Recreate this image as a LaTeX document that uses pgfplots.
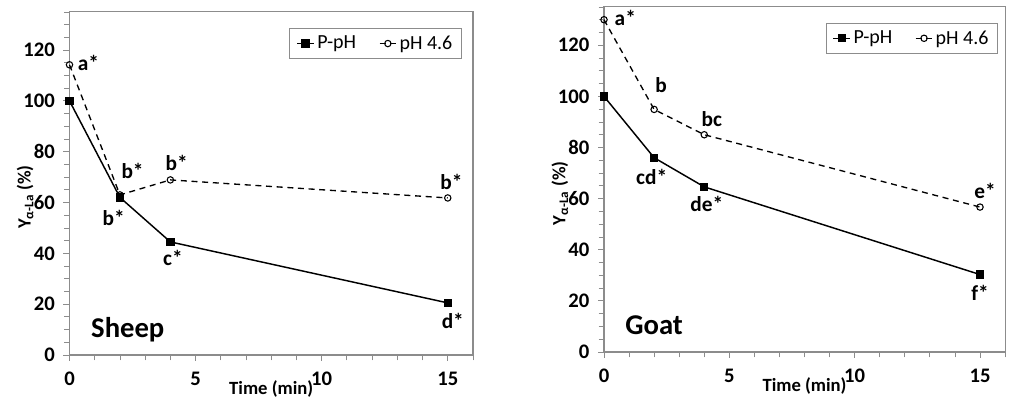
\documentclass[border=0pt]{standalone}
\usepackage{pgfplots}
\pgfplotsset{compat=1.18}
\usepackage{fontspec}
\setmainfont{Carlito}
\definecolor{axgray}{HTML}{8C8C8C}
\tikzset{lab/.style={font=\fontsize{16}{18}\selectfont\bfseries, inner sep=0pt}}
\pgfplotsset{
  myax/.style={
    scale only axis,
    xmin=0, xmax=16, ymin=0, ymax=135,
    xtick={0,5,10,15},
    minor xtick={1,2,3,4,6,7,8,9,11,12,13,14,16},
    ytick={0,20,40,60,80,100,120},
    minor ytick={5,10,15,25,30,35,45,50,55,65,70,75,85,90,95,105,110,115,125,130,135},
    tick align=outside,
    tick pos=left,
    major tick length=4.5pt,
    minor tick length=4pt,
    every tick/.style={axgray, line width=0.6pt},
    axis line style={axgray, line width=0.8pt},
    /pgf/number format/assume math mode=true,
    ticklabel style={font=\fontsize{15.5}{17}\selectfont\bfseries},
    yticklabel style={xshift=-3pt},
    xticklabel style={yshift=-5pt},
    label style={font=\fontsize{14}{16}\selectfont\bfseries},
    xlabel={Time (min)},
    ylabel={Y\textsubscript{α-La} (\%)},
    legend columns=2,
    legend style={draw=axgray, line width=0.6pt, font=\fontsize{15}{17}\selectfont,
      inner xsep=5pt, inner ysep=3.5pt, anchor=north east,
      /tikz/every even column/.append style={column sep=15pt}},
    legend image code/.code={\draw[mark repeat=2,mark phase=2,#1] plot coordinates {(0cm,0cm) (0.22cm,0cm) (0.44cm,0cm)};},
    clip=false,
  },
  ppH/.style={black, line width=1.1pt, mark=square*, mark size=2.6pt, mark options={solid}},
  pH46/.style={black, line width=1.0pt, dashed, dash pattern=on 4.5pt off 3.5pt, mark=o, mark size=2.4pt, mark options={solid, fill=white, line width=0.8pt}},
}
\begin{document}
\begin{tikzpicture}[x=0.75pt,y=0.75pt]
\useasboundingbox (0,0) rectangle (1011,403);
% Sheep
\begin{axis}[myax, at={(52.125pt,36pt)}, anchor=south west,
  width=302.6pt, height=257.3pt,
  xlabel style={at={(axis description cs:0.5,-0.098)}, anchor=center},
  ylabel style={at={(axis description cs:-0.11,0.46)}, anchor=center, rotate=0},
  legend style={at={(axis description cs:0.973,0.953)}}]
\addplot[ppH] coordinates {(0,100) (2,62) (4,44.5) (15,20.5)};
\addlegendentry{P-pH}
\addplot[pH46] coordinates {(0,114.2) (2,63) (4,68.9) (15,61.8)};
\addlegendentry{pH 4.6}
\node[lab] at (axis cs:0.75,115) {a*};
\node[lab] at (axis cs:2.5,72.5) {b*};
\node[lab] at (axis cs:1.75,54) {b*};
\node[lab] at (axis cs:4.25,75.5) {b*};
\node[lab] at (axis cs:4.1,38) {c*};
\node[lab] at (axis cs:15.2,13.5) {d*};
\node[lab] at (axis cs:15.15,68) {b*};
\node[anchor=west, font=\fontsize{21.5}{24}\selectfont\bfseries, inner sep=0pt] at (axis cs:0.85,10) {Sheep};
\end{axis}
% Goat
\begin{axis}[myax, at={(453pt,38.25pt)}, anchor=south west,
  width=300.8pt, height=258.8pt,
  xlabel style={at={(axis description cs:0.5,-0.098)}, anchor=center},
  ylabel style={at={(axis description cs:-0.11,0.46)}, anchor=center, rotate=0},
  legend style={at={(axis description cs:0.983,0.954)}}]
\addplot[ppH] coordinates {(0,100) (2,76) (4,64.6) (15,30.3)};
\addlegendentry{P-pH}
\addplot[pH46] coordinates {(0,130) (2,94.9) (4,85) (15,56.7)};
\addlegendentry{pH 4.6}
\node[lab] at (axis cs:0.85,130.5) {a*};
\node[lab] at (axis cs:2.28,104.5) {b};
\node[lab] at (axis cs:4.3,91) {bc};
\node[lab] at (axis cs:1.9,68.5) {cd*};
\node[lab] at (axis cs:4.1,58) {de*};
\node[lab] at (axis cs:15.2,63) {e*};
\node[lab] at (axis cs:15,23) {f*};
\node[anchor=center, font=\fontsize{21.5}{24}\selectfont\bfseries, inner sep=0pt] at (axis cs:2,10.5) {Goat};
\end{axis}
\end{tikzpicture}
\end{document}
